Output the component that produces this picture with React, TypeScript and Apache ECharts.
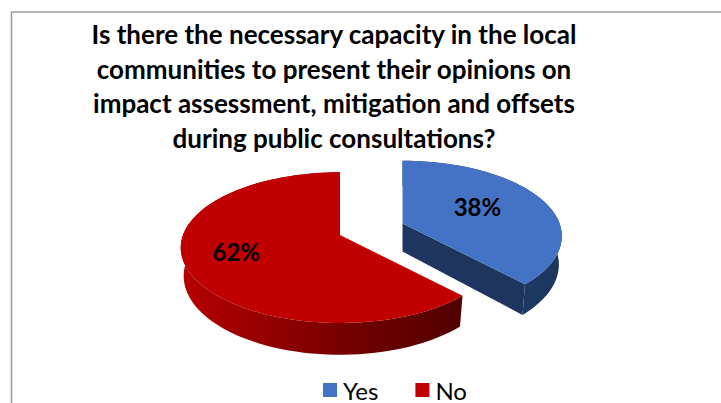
import React, { useEffect, useRef } from 'react';
import * as echarts from 'echarts';

// ---- data ----
const categories = ['Yes', 'No'];
const values = [38, 62];
const titleLines = [
  'Is there the necessary capacity in the local',
  'communities to present their opinions on',
  'impact assessment, mitigation and offsets',
  'during public consultations?',
];

// ---- styles ----
const FONT = 'Lato, "Noto Sans", sans-serif';
const TOP_COLORS = ['#4472C4', '#C00000'];
const CUT_COLORS = ['#1e365f', '#6a0000'];
const EXPLODE = [0.44, 0];
const LABEL_R = [0.53, 0.68];

// 3D projection parameters (screen centre of the pie, tilt, camera distance)
const CX = 340;
const CY = 235;
const TILT = (27.8 * Math.PI) / 180;
const DIST = 5.26;
const FOCAL = 157 * DIST;
const THICK = 0.206;

function project(X: number, Y: number, Z: number): [number, number] {
  const yc = Y * Math.cos(TILT) + Z * Math.sin(TILT);
  const d = DIST + Z * Math.cos(TILT) - Y * Math.sin(TILT);
  return [CX + (FOCAL * X) / d, CY - (FOCAL * yc) / d];
}

function rimFill(i: number): any {
  if (i === 0) {
    return {
      type: 'linear', x: 400, y: 0, x2: 560, y2: 0, global: true,
      colorStops: [
        { offset: 0, color: '#22406f' },
        { offset: 1, color: '#1d365f' },
      ],
    };
  }
  return {
    type: 'linear', x: 180, y: 0, x2: 460, y2: 0, global: true,
    colorStops: [
      { offset: 0, color: '#b60000' },
      { offset: 0.18, color: '#a20000' },
      { offset: 0.68, color: '#6c0000' },
      { offset: 1, color: '#520000' },
    ],
  };
}

function makeRenderItem(i: number) {
  return () => {
    const total = values.reduce((a, b) => a + b, 0);
    const before = values.slice(0, i).reduce((a, b) => a + b, 0);
    const a0 = (before / total) * Math.PI * 2;
    const a1 = ((before + values[i]) / total) * Math.PI * 2;
    const mid = (a0 + a1) / 2;
    const c0 = project(0, 0, 0);
    const ce = project(EXPLODE[i] * Math.sin(mid), 0, EXPLODE[i] * Math.cos(mid));
    const dx = ce[0] - c0[0];
    const dy = ce[1] - c0[1];
    const P = (X: number, Y: number, Z: number): number[] => {
      const p = project(X, Y, Z);
      return [p[0] + dx, p[1] + dy];
    };
    const N = 90;
    const topArc: number[][] = [];
    const botArc: number[][] = [];
    for (let k = 0; k <= N; k++) {
      const t = a0 + ((a1 - a0) * k) / N;
      topArc.push(P(Math.sin(t), 0, Math.cos(t)));
      botArc.push(P(Math.sin(t), -THICK, Math.cos(t)));
    }
    const center = P(0, 0, 0);
    const centerB = P(0, -THICK, 0);
    const children: any[] = [];
    children.push({
      type: 'polygon',
      shape: { points: [...topArc, ...botArc.slice().reverse()] },
      style: { fill: rimFill(i) },
    });
    if (Math.sin(a0) < -1e-6) {
      children.push({
        type: 'polygon',
        shape: { points: [center, topArc[0], botArc[0], centerB] },
        style: { fill: CUT_COLORS[i] },
      });
    }
    if (Math.sin(a1) > 1e-6) {
      children.push({
        type: 'polygon',
        shape: { points: [center, topArc[N], botArc[N], centerB] },
        style: { fill: CUT_COLORS[i] },
      });
    }
    children.push({
      type: 'polygon',
      shape: { points: [center, ...topArc] },
      style: { fill: TOP_COLORS[i] },
    });
    const lr = LABEL_R[i];
    const lp = P(lr * Math.sin(mid), 0, lr * Math.cos(mid));
    children.push({
      type: 'text',
      x: lp[0],
      y: lp[1] - 3,
      style: {
        text: Math.round((values[i] / total) * 100) + '%',
        fill: '#000',
        fontSize: 24,
        fontWeight: 'bold',
        fontFamily: FONT,
        align: 'center',
        verticalAlign: 'middle',
      },
    });
    return { type: 'group', children };
  };
}

export default function App() {
  const ref = useRef<HTMLDivElement>(null);
  useEffect(() => {
    if (!ref.current) return;
    const chart = echarts.init(ref.current, undefined, { renderer: 'svg' });
    chart.setOption({
      animation: false,
      backgroundColor: '#ffffff',
      title: {
        text: titleLines.join('\n'),
        left: 334,
        top: 17,
        padding: 0,
        textAlign: 'center',
        textStyle: {
          fontFamily: FONT,
          fontSize: 26,
          fontWeight: 'bold',
          color: '#000',
          lineHeight: 34.5,
        },
      },
      legend: {
        data: categories,
        left: 323,
        top: 378,
        padding: 0,
        icon: 'rect',
        itemWidth: 14,
        itemHeight: 14,
        itemGap: 37,
        textStyle: { fontFamily: FONT, fontSize: 24, color: '#000', padding: [0, 0, 0, 1] },
      },
      graphic: [
        {
          type: 'rect',
          silent: true,
          z: -10,
          shape: { x: 11.5, y: 12, width: 760, height: 440 },
          style: { fill: 'none', stroke: '#9d9d9d', lineWidth: 1.6 },
        },
      ],
      series: categories.map((name, i) => ({
        type: 'custom',
        name,
        coordinateSystem: 'none',
        renderItem: makeRenderItem(i),
        data: [values[i]],
        itemStyle: { color: TOP_COLORS[i] },
      })),
    });
    return () => chart.dispose();
  }, []);
  return (
    <div
      ref={ref}
      style={{ position: 'fixed', left: 0, top: 0, width: 721, height: 403 }}
    />
  );
}
